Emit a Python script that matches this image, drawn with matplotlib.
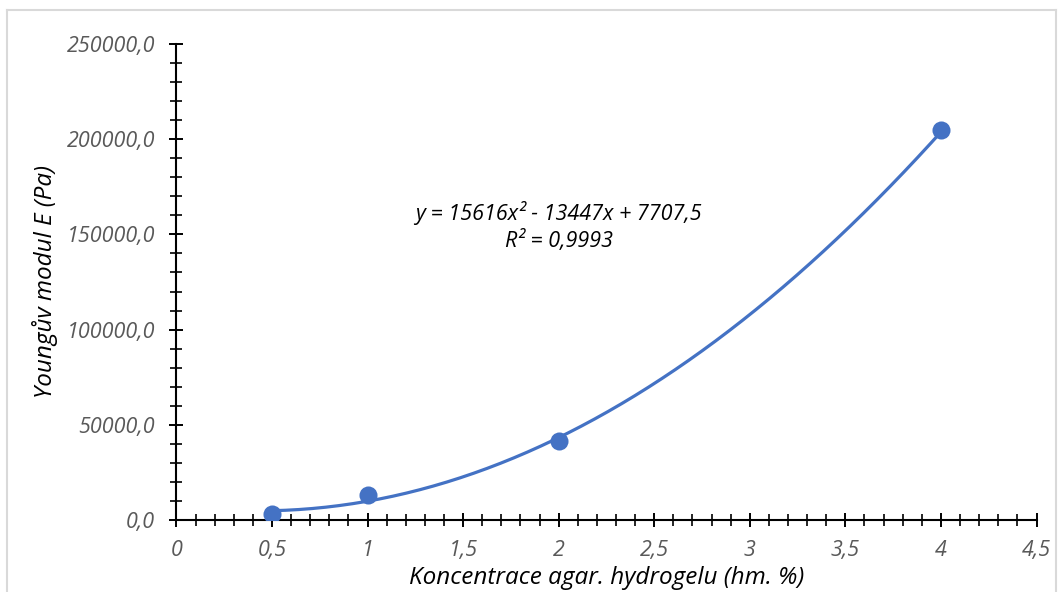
import numpy as np
import matplotlib
matplotlib.use("Agg")
import matplotlib.pyplot as plt
from matplotlib.ticker import MultipleLocator, FuncFormatter
from matplotlib.lines import Line2D

# Data
concentration = [0.5, 1, 2, 4]
young_modulus = [3000, 13100, 41500, 204800]
trend_coeffs = [15616, -13447, 7707.5]
equation_text = "y = 15616x² - 13447x + 7707,5"
r2_text = "R² = 0,9993"
x_label = "Koncentrace agar. hydrogelu (hm. %)"
y_label = "Youngův modul E (Pa)"

plt.rcParams['font.family'] = ['Open Sans', 'DejaVu Sans']

fig = plt.figure(figsize=(10.62, 5.92), dpi=100)
ax = fig.add_axes([0.1661, 0.1216, 0.976 - 0.1661, 0.9257 - 0.1216])

blue = '#4472C4'
xs = np.linspace(min(concentration), max(concentration), 200)
ax.plot(xs, np.polyval(trend_coeffs, xs), color=blue, lw=2.3, zorder=3,
        solid_capstyle='round')
ax.plot(concentration, young_modulus, 'o', color=blue, ms=13, zorder=4,
        markeredgewidth=0)

ax.set_xlim(0, 4.5)
ax.set_ylim(0, 250000)

for s in ['top', 'right']:
    ax.spines[s].set_visible(False)
for s in ['left', 'bottom']:
    ax.spines[s].set_linewidth(1.5)
    ax.spines[s].set_color('black')

ax.xaxis.set_major_locator(MultipleLocator(0.5))
ax.xaxis.set_minor_locator(MultipleLocator(0.1))
ax.yaxis.set_major_locator(MultipleLocator(50000))
ax.yaxis.set_minor_locator(MultipleLocator(10000))

def xfmt(v, pos):
    s = ('%g' % round(v, 2))
    return s.replace('.', ',')

def yfmt(v, pos):
    return ('%.1f' % v).replace('.', ',')

ax.xaxis.set_major_formatter(FuncFormatter(xfmt))
ax.yaxis.set_major_formatter(FuncFormatter(yfmt))

ax.tick_params(axis='both', which='major', direction='inout', length=10.5,
               width=1.4, color='black', labelsize=15.5, labelcolor='#595959')
ax.tick_params(axis='both', which='minor', direction='inout', length=8,
               width=1.2, color='black')
ax.tick_params(axis='y', which='major', pad=10)
ax.tick_params(axis='x', which='major', pad=9)
for lab in ax.get_xticklabels() + ax.get_yticklabels():
    lab.set_fontstyle('italic')

ax.set_xlabel(x_label, fontsize=17.5, fontstyle='italic', color='black', labelpad=4)
ax.set_ylabel(y_label, fontsize=17.5, fontstyle='italic', color='black', labelpad=6)

ax.text(2.0, 161000, equation_text, fontsize=15.5, fontstyle='italic',
        ha='center', va='center', color='black')
ax.text(2.0, 146500, r2_text, fontsize=15.5, fontstyle='italic',
        ha='center', va='center', color='black')

# Light gray chart frame
W, H = 1062, 592
frame_col = '#d9d9d9'
fig.add_artist(Line2D([7 / W, 7 / W], [0, 1 - 10 / H], color=frame_col, lw=1.5))
fig.add_artist(Line2D([7 / W, 1056 / W], [1 - 10 / H, 1 - 10 / H], color=frame_col, lw=1.5))
fig.add_artist(Line2D([1056 / W, 1056 / W], [0, 1 - 10 / H], color=frame_col, lw=1.5))

fig.savefig('out.png', dpi=100)
